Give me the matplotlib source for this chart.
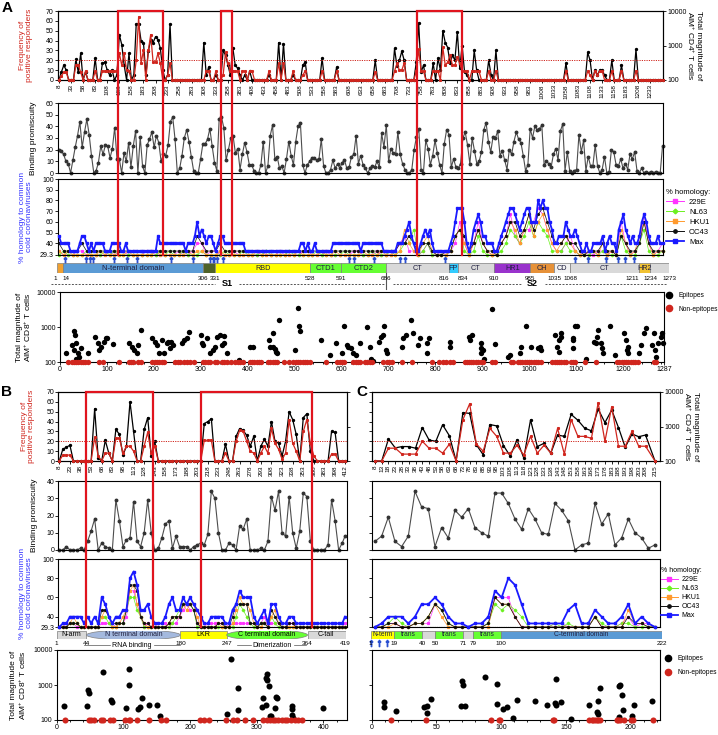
import numpy as np
import matplotlib
matplotlib.use("Agg")
import matplotlib.pyplot as plt
import matplotlib.transforms as mtransforms
from matplotlib.lines import Line2D
from matplotlib.patches import Rectangle, Ellipse
from matplotlib.ticker import NullLocator, MultipleLocator

plt.rcParams['font.family'] = ['Liberation Sans', 'DejaVu Sans']
plt.rcParams['font.size'] = 5
plt.rcParams['axes.linewidth'] = 0.8
plt.rcParams['xtick.major.size'] = 2
plt.rcParams['ytick.major.size'] = 2
plt.rcParams['xtick.minor.size'] = 1.2
plt.rcParams['xtick.major.width'] = 0.6
plt.rcParams['ytick.major.width'] = 0.6
plt.rcParams['xtick.major.pad'] = 1
plt.rcParams['ytick.major.pad'] = 1
plt.rcParams['mathtext.default'] = 'regular'

"""
Panel A - spike (S)
"""
a_pep = list(range(8, 1259, 5))
a_ticks = list(range(8, 1234, 25))

a_freq = [0, 4, 8, 8, 0, 0, 0, 15, 15, 8,
          0, 9, 0, 0, 0, 9, 0, 0, 9, 9,
          9, 9, 9, 9, 9, 27, 15, 27, 10, 9,
          0, 0, 20, 64, 17, 30, 0, 30, 46, 18,
          18, 27, 17, 0, 0, 5, 17, 0, 0, 0,
          0, 0, 0, 0, 0, 0, 0, 0, 0, 0,
          0, 9, 9, 0, 0, 9, 0, 0, 5, 28,
          17, 9, 9, 9, 9, 0, 9, 9, 0, 9,
          9, 0, 0, 0, 0, 0, 0, 9, 0, 0,
          0, 17, 0, 17, 0, 0, 0, 9, 0, 0,
          0, 5, 9, 0, 0, 0, 0, 0, 0, 9,
          0, 0, 0, 0, 0, 9, 0, 0, 0, 0,
          0, 0, 0, 0, 0, 0, 0, 0, 0, 0,
          0, 8, 0, 0, 0, 0, 0, 0, 0, 9,
          17, 10, 10, 17, 0, 0, 0, 0, 9, 31,
          9, 9, 0, 0, 0, 9, 9, 9, 0, 33,
          15, 18, 25, 15, 15, 23, 17, 9, 9, 9,
          0, 9, 9, 9, 9, 0, 0, 0, 9, 0,
          0, 9, 0, 0, 0, 0, 0, 0, 0, 0,
          0, 0, 0, 0, 0, 0, 0, 0, 0, 0,
          0, 0, 0, 0, 0, 0, 0, 0, 0, 0,
          9, 0, 0, 0, 0, 0, 0, 0, 0, 9,
          5, 0, 9, 5, 9, 9, 0, 0, 0, 9,
          0, 0, 0, 9, 0, 0, 0, 0, 0, 9,
          0, 0, 0, 0, 0, 0, 0, 0, 0, 0,
          0]

a_mag = [100, 169, 268, 193, 100, 100, 100, 398, 169, 590,
         100, 169, 100, 100, 100, 425, 100, 100, 306, 327,
         193, 139, 193, 100, 139, 2056, 1068, 268, 100, 590,
         100, 139, 4240, 4240, 1390, 1217, 139, 673, 1484, 1217,
         1806, 1484, 820, 193, 100, 139, 4240, 100, 100, 100,
         100, 100, 100, 100, 100, 100, 100, 100, 100, 100,
         1217, 139, 235, 100, 100, 139, 100, 100, 720, 518,
         268, 139, 875, 268, 220, 139, 100, 139, 100, 180,
         100, 100, 100, 100, 100, 100, 100, 139, 100, 100,
         100, 1217, 100, 1140, 100, 100, 100, 139, 100, 100,
         100, 268, 327, 100, 100, 100, 100, 100, 100, 425,
         100, 100, 100, 100, 100, 235, 100, 100, 100, 100,
         100, 100, 100, 100, 100, 100, 100, 100, 100, 100,
         100, 372, 100, 100, 100, 100, 100, 100, 100, 820,
         251, 372, 673, 372, 100, 100, 100, 100, 327, 4530,
         169, 268, 100, 100, 100, 306, 100, 425, 193, 2680,
         1217, 875, 306, 518, 372, 2510, 220, 1000, 169, 139,
         100, 100, 720, 193, 100, 100, 100, 100, 372, 139,
         100, 720, 100, 100, 100, 100, 100, 100, 100, 100,
         100, 100, 100, 100, 100, 100, 100, 100, 100, 100,
         100, 100, 100, 100, 100, 100, 100, 100, 100, 100,
         306, 100, 100, 100, 100, 100, 100, 100, 100, 631,
         372, 100, 193, 139, 193, 193, 139, 100, 100, 372,
         100, 100, 100, 268, 100, 100, 100, 100, 100, 768,
         100, 100, 100, 100, 100, 100, 100, 100, 100, 100,
         100]

a_binding = [20, 19, 16, 10, 8, 0, 11, 22, 32, 44, 22, 35, 46, 33, 15, 0, 2, 9, 23, 16,
             24, 23, 13, 21, 39, 12, 12, 0, 17, 10, 26, 5, 23, 36, 0, 31, 6, 0, 24, 29,
             35, 22, 32, 26, 10, 16, 15, 24, 44, 48, 29, 0, 4, 15, 30, 37, 27, 14, 2, 0,
             0, 12, 25, 25, 29, 38, 23, 9, 2, 46, 48, 39, 11, 20, 30, 32, 17, 21, 3, 16,
             26, 18, 7, 7, 2, 0, 0, 7, 27, 0, 6, 32, 41, 12, 14, 4, 6, 0, 12, 27,
             15, 7, 27, 40, 43, 7, 0, 7, 10, 13, 13, 11, 12, 29, 6, 0, 0, 3, 11, 4,
             8, 4, 9, 11, 4, 5, 14, 16, 32, 8, 15, 7, 4, 0, 4, 6, 5, 10, 5, 34,
             22, 41, 10, 21, 17, 16, 35, 16, 8, 3, 0, 0, 3, 20, 31, 38, 3, 0, 28, 21,
             7, 15, 28, 17, 7, 0, 25, 37, 33, 5, 12, 5, 4, 8, 30, 35, 24, 8, 30, 19,
             8, 10, 18, 37, 43, 27, 18, 31, 30, 36, 15, 19, 11, 3, 20, 16, 27, 35, 29, 26,
             15, 2, 7, 38, 30, 40, 37, 38, 41, 7, 10, 8, 5, 16, 21, 11, 36, 42, 2, 18,
             2, 0, 2, 3, 33, 18, 28, 2, 14, 6, 6, 24, 6, 0, 3, 14, 0, 1, 20, 18,
             7, 6, 12, 4, 8, 3, 16, 12, 18, 2, 0, 4, 0, 1, 0, 1, 0, 1, 0, 0, 23]

a_hom_max = [47, 40, 40, 40, 40, 33, 33, 33, 33, 40,
             47, 47, 40, 33, 40, 33, 40, 40, 40, 40,
             33, 33, 33, 40, 40, 40, 40, 33, 33, 40,
             33, 33, 33, 33, 33, 33, 33, 33, 33, 33,
             33, 33, 33, 47, 40, 40, 40, 40, 40, 40,
             40, 40, 40, 40, 40, 33, 40, 40, 40, 47,
             60, 47, 53, 47, 40, 47, 47, 40, 33, 40,
             47, 47, 40, 40, 40, 40, 40, 40, 40, 40,
             40, 33, 33, 33, 33, 33, 33, 33, 33, 33,
             33, 33, 33, 33, 33, 33, 33, 33, 33, 33,
             33, 33, 33, 33, 33, 40, 40, 33, 40, 33,
             33, 40, 33, 33, 33, 33, 33, 33, 33, 40,
             40, 40, 40, 40, 40, 40, 40, 40, 40, 40,
             40, 33, 40, 40, 40, 40, 40, 40, 40, 40,
             40, 33, 33, 33, 33, 33, 33, 40, 40, 40,
             47, 53, 60, 47, 40, 33, 33, 40, 47, 53,
             47, 53, 40, 33, 33, 33, 33, 33, 33, 33,
             40, 47, 60, 73, 73, 73, 60, 40, 33, 40,
             53, 60, 67, 60, 47, 47, 40, 40, 40, 33,
             33, 40, 47, 53, 60, 67, 73, 73, 67, 60,
             53, 60, 67, 73, 73, 60, 60, 60, 80, 73,
             80, 73, 73, 60, 53, 40, 40, 47, 47, 47,
             60, 53, 47, 47, 53, 47, 40, 33, 33, 40,
             33, 33, 40, 40, 40, 40, 47, 33, 40, 47,
             40, 40, 33, 53, 60, 67, 53, 47, 40, 47,
             40, 40, 47, 60, 67, 60, 47, 40, 40, 40,
             47, 40, 40]

a_hom_229e = [33, 29.3, 29.3, 29.3, 33, 33, 29.3, 29.3, 29.3, 29.3,
              29.3, 33, 29.3, 33, 33, 29.3, 29.3, 29.3, 29.3, 33,
              33, 29.3, 29.3, 29.3, 29.3, 29.3, 33, 29.3, 29.3, 33,
              40, 40, 29.3, 33, 33, 29.3, 29.3, 29.3, 33, 29.3,
              29.3, 29.3, 29.3, 29.3, 33, 29.3, 29.3, 29.3, 33, 29.3,
              29.3, 29.3, 29.3, 33, 33, 29.3, 29.3, 29.3, 33, 29.3,
              29.3, 29.3, 29.3, 29.3, 33, 33, 29.3, 29.3, 29.3, 33,
              29.3, 29.3, 29.3, 33,
              40, 47, 33, 33, 29.3, 33, 40, 29.3, 29.3, 33,
              29.3, 33, 40, 60, 40, 29.3, 40, 60, 40, 33,
              29.3, 33, 40, 47, 67, 47, 40, 53, 53, 60,
              73, 67, 53, 40, 33, 33, 40, 47, 33, 29.3,
              33, 29.3, 29.3, 33, 33, 29.3, 33, 29.3, 60, 40,
              29.3, 33, 40, 67, 40, 29.3, 33, 40]

a_hom_nl63 = [29.3, 33, 29.3, 29.3, 29.3, 29.3, 33, 29.3, 29.3, 29.3,
              33, 29.3, 33, 29.3, 29.3, 29.3, 29.3, 29.3, 29.3, 29.3,
              29.3, 29.3, 33, 29.3, 33, 29.3, 29.3, 33, 29.3, 29.3,
              29.3, 33, 29.3, 29.3, 29.3, 29.3, 33, 29.3, 29.3, 29.3,
              33, 29.3, 29.3, 29.3, 29.3, 33, 29.3, 29.3, 29.3, 29.3,
              33, 29.3, 29.3, 29.3, 29.3, 29.3, 33, 29.3, 29.3, 29.3,
              29.3, 29.3, 33, 29.3, 29.3, 29.3, 29.3, 29.3, 33, 29.3,
              29.3, 29.3, 33, 29.3,
              33, 40, 40, 53, 29.3, 33, 40, 29.3, 29.3, 29.3,
              29.3, 33, 47, 53, 33, 29.3, 33, 47, 33, 29.3,
              29.3, 29.3, 33, 40, 53, 47, 40, 47, 60, 47,
              60, 53, 47, 33, 33, 33, 40, 33, 33, 29.3,
              29.3, 29.3, 33, 29.3, 33, 29.3, 29.3, 29.3, 47, 33,
              29.3, 29.3, 40, 53, 33, 29.3, 29.3, 33]

a_hom_hku1 = [33, 29.3, 33, 29.3, 29.3, 29.3, 29.3, 29.3, 29.3, 33,
              29.3, 29.3, 29.3, 29.3, 29.3, 33, 29.3, 29.3, 29.3, 29.3,
              29.3, 33, 29.3, 29.3, 29.3, 29.3, 29.3, 29.3, 33, 29.3,
              33, 33, 29.3, 29.3, 29.3, 33, 29.3, 29.3, 29.3, 29.3,
              29.3, 29.3, 29.3, 33, 29.3, 29.3, 29.3, 29.3, 29.3, 29.3,
              29.3, 29.3, 33, 29.3, 29.3, 29.3, 29.3, 33, 29.3, 29.3,
              33, 29.3, 29.3, 29.3, 29.3, 29.3, 33, 29.3, 29.3, 29.3,
              33, 29.3, 29.3, 29.3,
              33, 53, 40, 33, 29.3, 40, 47, 33, 29.3, 29.3,
              29.3, 33, 47, 53, 40, 29.3, 40, 53, 40, 33,
              29.3, 29.3, 40, 47, 60, 53, 40, 53, 67, 47,
              60, 67, 53, 40, 33, 40, 47, 40, 33, 29.3,
              29.3, 33, 33, 29.3, 40, 29.3, 33, 29.3, 53, 40,
              29.3, 33, 47, 60, 40, 29.3, 33, 33]

a_hom_oc43 = [40, 33, 33, 33, 33, 40, 33, 33, 33, 33,
              33, 33, 33, 33, 33, 33, 33, 33, 33, 33,
              33, 33, 33, 33, 33, 33, 33, 33, 33, 33,
              47, 40, 33, 33, 33, 40, 33, 33, 33, 33,
              33, 33, 33, 33, 33, 33, 33, 33, 33, 33,
              33, 33, 33, 33, 33, 33, 33, 33, 33, 33,
              33, 33, 33, 33, 33, 33, 33, 33, 33, 33,
              33, 33, 33, 33,
              40, 40, 47, 40, 33, 40, 40, 33, 29.3, 29.3,
              33, 33, 47, 53, 47, 33, 40, 53, 40, 33,
              33, 29.3, 40, 47, 60, 60, 47, 53, 67, 53,
              67, 73, 60, 47, 40, 40, 47, 40, 40, 33,
              29.3, 33, 33, 33, 40, 33, 33, 29.3, 47, 40,
              33, 33, 40, 60, 40, 33, 33, 33]

# conserved positions marked with arrows under the homology track
a_arrows = [20, 63, 73, 78, 123, 149, 170, 240, 286, 321, 326, 330, 335, 347,
            609, 620, 661, 715, 724, 808, 1077, 1103, 1140, 1165, 1180, 1199]

a_dom_start = [1, 14, 306, 331, 528, 591, 686, 816, 834, 910, 985, 1035, 1068, 1211, 1234]
a_dom_end = [14, 306, 331, 528, 591, 686, 816, 834, 910, 985, 1035, 1068, 1211, 1234, 1273]
a_dom_name = ['', 'N-terminal domain', '', 'RBD', 'CTD1', 'CTD2', 'CT', 'FP', 'CT',
              'HR1', 'CH', 'CD', 'CT', 'HR2', '']
a_dom_ticks = [1, 14, 306, 331, 528, 591, 686, 816, 834, 910, 985, 1035, 1068, 1211, 1234, 1273]

a_epi_pos = [13, 25, 30, 33, 30, 35, 39, 44, 35, 41, 59, 74, 82, 87, 84, 94, 97, 100, 113, 146,
             153, 158, 164, 167, 172, 197, 202, 207, 217, 212, 222, 227, 231, 236, 241, 234, 261, 264, 271, 274,
             300, 303, 305, 313, 320, 325, 330, 335, 340, 345, 350, 355, 350, 382, 404, 412, 446, 448, 453, 458,
             461, 467, 463, 453, 500, 507, 510, 512, 556, 576, 589, 601, 606, 611, 613, 620, 625, 630, 655, 640,
             660, 663, 668, 680, 684, 689, 691, 694, 697, 729, 731, 737, 748, 753, 763, 768, 783, 783, 786, 832,
             832, 872, 874, 878, 896, 896, 901, 904, 896, 921, 926, 955, 958, 980, 983, 993, 1003, 1024, 1019, 1022,
             1054, 1059, 1064, 1064, 1068, 1068, 1093, 1093, 1101, 1098, 1093, 1121, 1137, 1142, 1145, 1147, 1152, 1154, 1157, 1172,
             1182, 1201, 1206, 1211, 1209, 1211, 1234, 1238, 1244, 1249, 1261, 1265, 1268, 1271, 1275, 1280, 1283, 1285]
a_epi_mag = [175, 306, 748, 598, 219, 342, 175, 245, 125, 140, 175, 511, 342, 274, 219, 383, 478, 478, 320, 342,
             274, 219, 175, 306, 836, 478, 383, 306, 428, 175, 175, 342, 383, 383, 306, 245, 342, 428, 498, 733,
             598, 357, 306, 478, 175, 219, 274, 535, 598, 306, 342, 175, 558, 112, 274, 274, 428, 274, 669, 229,
             196, 1570, 175, 274, 219, 3570, 1045, 748, 428, 156, 357, 175, 1093, 306, 274, 245, 175, 156, 978, 342,
             274, 125, 105, 383, 535, 598, 1045, 219, 175, 274, 478, 598, 1630, 669, 306, 478, 175, 342, 478, 383,
             274, 535, 428, 598, 342, 245, 219, 125, 175, 3199, 320, 140, 156, 175, 274, 1093, 274, 219, 256, 274,
             598, 274, 428, 196, 669, 535, 245, 478, 1045, 1045, 428, 125, 383, 357, 535, 836, 342, 245, 175, 1045,
             156, 669, 428, 274, 219, 175, 175, 306, 669, 935, 306, 669, 219, 140, 342, 535, 669, 342]
a_non_pos = [18, 25, 30, 35, 39, 44, 49, 54, 59, 84, 91, 126, 146, 151, 156, 167, 172, 197, 202, 207,
             212, 217, 222, 244, 251, 256, 264, 271, 276, 286, 305, 310, 315, 320, 330, 335, 345, 350, 355, 364,
             372, 379, 384, 389, 404, 409, 414, 419, 423, 428, 443, 448, 453, 458, 463, 478, 487, 497, 502, 507,
             512, 517, 522, 527, 532, 566, 591, 596, 601, 606, 625, 630, 635, 640, 650, 655, 660, 665, 689, 697,
             702, 707, 729, 751, 793, 808, 817, 822, 832, 837, 862, 867, 872, 876, 881, 886, 891, 896, 901, 921,
             926, 960, 965, 975, 980, 985, 990, 995, 1000, 1004, 1009, 1014, 1019, 1024, 1049, 1054, 1059, 1064, 1068, 1073,
             1078, 1088, 1093, 1098, 1118, 1142, 1187, 1192, 1197, 1201, 1206, 1211, 1216, 1221, 1226, 1231, 1265, 1270]

a_boxes = [(130, 223), (344, 366), (750, 843)]

"""
Panel B - nucleocapsid (N)
"""
b_pep = list(range(8, 409, 5)) + [412]
b_ticks = list(range(8, 399, 15)) + [412]

b_freq = [0, 6, 6, 6, 0, 0, 0, 0, 0, 0,
          24, 5, 0, 8, 8, 0, 23, 23, 8, 15,
          15, 10, 0, 0, 15, 29, 8, 15, 0, 0,
          0, 0, 0, 0, 0, 0, 0, 0, 0, 0,
          0, 21, 21, 21, 0, 0, 0, 8, 0, 0,
          20, 31, 30, 20, 10, 8, 0, 8, 15, 8,
          33, 18, 12, 2, 8, 42, 18, 10, 0, 30,
          42, 18, 5, 0, 0, 0, 0, 7, 7, 0,
          0, 0]
b_mag = [100, 220, 251, 286, 100, 100, 100, 100, 100, 100,
         3270, 122, 100, 398, 169, 100, 820, 590, 148, 268,
         5180, 720, 100, 100, 820, 1806, 139, 372, 100, 100,
         100, 100, 100, 100, 100, 100, 100, 100, 100, 100,
         100, 1217, 1390, 1690, 100, 100, 100, 306, 100, 100,
         518, 875, 768, 553, 268, 518, 100, 268, 425, 268,
         1390, 372, 327, 139, 372, 2680, 1585, 590, 100, 1806,
         2340, 193, 100, 100, 100, 100, 100, 720, 673, 100,
         100, 100]
b_binding = [0, 0, 2, 0, 0, 0, 1, 0, 5, 11,
             18, 0, 4, 2, 1, 0, 29, 17, 2, 6,
             7, 28, 5, 2, 10, 29, 10, 0, 1, 7,
             15, 17, 1, 8, 2, 2, 2, 0, 2, 3,
             4, 3, 9, 34, 30, 10, 0, 0, 4, 3,
             0, 14, 12, 18, 0, 0, 0, 1, 0, 5,
             31, 23, 34, 10, 8, 31, 10, 1, 11, 33,
             31, 5, 0, 0, 0, 0, 3, 29, 17, 0,
             4, 8]
b_hom_max = [29.3, 33, 33, 40, 40, 40, 40, 33, 40, 33,
             40, 33, 60, 53, 40, 33, 40, 40, 47, 47,
             80, 87, 73, 47, 47, 53, 40, 33, 33, 33,
             40, 53, 60, 47, 47, 60, 53, 60, 53, 47,
             40, 33, 33, 40, 40, 40, 40, 33, 33, 47,
             53, 67, 60, 60, 60, 40, 33, 40, 47, 33,
             53, 53, 40, 33, 33, 40, 40, 33, 33, 33,
             33, 33, 33, 33, 33, 33, 33, 33, 33, 33,
             33, 40]
b_hom_229e = [29.3, 29.3, 33, 33, 33, 29.3, 29.3, 29.3, 29.3, 29.3,
              29.3, 29.3, 33, 33, 33, 33, 29.3, 33, 33, 40,
              67, 67, 53, 40, 29.3, 33, 29.3, 29.3, 33, 33,
              33, 29.3, 33, 33, 40, 47, 53, 47, 47, 33,
              29.3, 29.3, 33, 33, 33, 33, 33, 33, 29.3, 33,
              33, 33, 33, 33, 33, 33, 29.3, 33, 40, 29.3,
              33, 33, 33, 29.3, 29.3, 33, 33, 29.3, 29.3, 29.3,
              29.3, 29.3, 29.3, 29.3, 29.3, 29.3, 29.3, 29.3, 29.3, 29.3,
              29.3, 33]
b_hom_nl63 = [29.3, 29.3, 29.3, 33, 33, 33, 29.3, 29.3, 29.3, 29.3,
              29.3, 29.3, 40, 40, 33, 29.3, 29.3, 33, 33, 47,
              60, 60, 47, 40, 29.3, 29.3, 29.3, 29.3, 29.3, 29.3,
              29.3, 29.3, 33, 40, 47, 53, 53, 53, 47, 29.3,
              29.3, 29.3, 29.3, 29.3, 29.3, 29.3, 29.3, 29.3, 29.3, 29.3,
              40, 53, 47, 40, 33, 29.3, 29.3, 33, 33, 29.3,
              40, 33, 29.3, 29.3, 29.3, 29.3, 29.3, 29.3, 29.3, 29.3,
              29.3, 29.3, 29.3, 29.3, 29.3, 29.3, 29.3, 29.3, 29.3, 29.3,
              29.3, 29.3]
b_hom_hku1 = [29.3, 29.3, 29.3, 33, 40, 33, 29.3, 29.3, 29.3, 29.3,
              29.3, 29.3, 40, 47, 40, 29.3, 29.3, 33, 40, 47,
              67, 73, 53, 40, 33, 29.3, 29.3, 29.3, 29.3, 29.3,
              29.3, 33, 40, 40, 40, 53, 47, 53, 53, 40,
              29.3, 29.3, 29.3, 29.3, 29.3, 33, 29.3, 29.3, 29.3, 33,
              47, 60, 53, 53, 47, 33, 29.3, 29.3, 33, 29.3,
              40, 47, 33, 29.3, 29.3, 29.3, 29.3, 29.3, 29.3, 29.3,
              29.3, 29.3, 29.3, 29.3, 29.3, 29.3, 29.3, 29.3, 29.3, 29.3,
              29.3, 29.3]
b_hom_oc43 = [29.3, 29.3, 29.3, 33, 33, 33, 29.3, 29.3, 29.3, 29.3,
              29.3, 29.3, 47, 47, 40, 33, 33, 33, 33, 47,
              73, 73, 67, 40, 33, 33, 29.3, 29.3, 29.3, 29.3,
              29.3, 33, 40, 40, 40, 53, 53, 53, 47, 33,
              29.3, 29.3, 29.3, 29.3, 29.3, 33, 33, 29.3, 29.3, 40,
              53, 53, 53, 53, 33, 33, 29.3, 33, 33, 29.3,
              47, 40, 33, 29.3, 29.3, 33, 33, 29.3, 29.3, 29.3,
              29.3, 29.3, 29.3, 29.3, 29.3, 29.3, 29.3, 29.3, 29.3, 29.3,
              29.3, 29.3]

b_epi_pos = [11, 46, 47.5, 49, 70, 81, 83.5, 104, 109, 109, 128, 122.5, 125, 138.5, 151, 155.5, 255, 261, 271.5, 271.5,
             309, 308.5, 313.5, 315.5, 315, 313.5, 318.5, 319.5, 321, 328, 329.5, 331, 353, 352.5, 353.5, 355, 400]
b_epi_mag = [248, 248, 718, 600, 2420, 361, 330, 217, 2960, 1020, 431, 203, 232, 265, 265, 133, 152, 5500, 836, 199,
             431, 232, 1560, 2030, 1360, 265, 935, 133, 128, 222, 460, 431, 248, 207, 136, 114, 222]
b_non_pos = [12, 48, 52, 56, 66, 69, 80, 84, 102, 108, 110, 120, 138, 156, 164, 215, 221, 228, 254, 264,
             270, 282, 295, 310, 315, 320, 324, 328, 332, 338, 342, 346, 352, 358, 362, 368]
b_boxes = [(46, 140), (208, 365)]

"""
Panel C - membrane (M)
"""
c_pep = list(range(8, 209, 5)) + [215]
c_freq = [0, 0, 13, 13, 7, 7, 7, 20, 13, 13,
          8, 17, 0, 42, 58, 17, 10, 33, 25, 8,
          8, 16, 6, 25, 8, 16, 8, 33, 7, 42,
          25, 25, 23, 59, 20, 55, 15, 15, 30, 15,
          15, 0]
c_mag = [100, 100, 435, 240, 262, 262, 235, 935, 407, 372,
         1120, 541, 100, 2520, 2400, 293, 152, 1140, 1040, 280,
         139, 407, 122, 1550, 262, 326, 169, 566, 518, 2240,
         1520, 895, 752, 3200, 1300, 3000, 935, 251, 605, 506,
         566, 100]
c_binding = [5, 8, 19, 5, 2, 8, 34, 25, 24, 2, 13, 7, 23, 19, 24, 13, 10, 8, 33, 33,
             27, 18, 12, 24, 18, 10, 9, 27, 23, 17, 0, 3, 4, 27, 15, 21, 3, 7, 18, 10,
             7, 1, 3]
c_hom_max = [29.3, 33, 40, 40, 40, 33, 40, 53, 53, 60, 53, 40, 33, 33, 29.3, 33, 33, 40, 67, 60,
             80, 73, 53, 33, 33, 33, 33, 33, 33, 47, 53, 33, 33, 47, 40, 33, 33, 40, 53, 33,
             40, 33, 29.3]
c_hom_229e = [29.3, 29.3, 33, 33, 29.3, 29.3, 33, 33, 33, 53, 47, 33, 29.3, 29.3, 29.3, 29.3, 29.3, 33, 60, 60,
              60, 40, 29.3, 29.3, 29.3, 29.3, 29.3, 33, 33, 29.3, 29.3, 29.3, 29.3, 40, 29.3, 29.3, 29.3, 33, 40, 29.3,
              33, 33, 29.3]
c_hom_nl63 = [29.3, 29.3, 33, 40, 33, 29.3, 33, 33, 40, 53, 47, 33, 29.3, 29.3, 29.3, 29.3, 29.3, 33, 53, 47,
              53, 47, 40, 29.3, 29.3, 29.3, 29.3, 33, 29.3, 33, 29.3, 29.3, 29.3, 40, 33, 29.3, 29.3, 33, 33, 29.3,
              29.3, 29.3, 29.3]
c_hom_hku1 = [29.3, 29.3, 29.3, 33, 29.3, 29.3, 33, 33, 40, 53, 40, 29.3, 29.3, 29.3, 29.3, 29.3, 29.3, 29.3, 60, 53,
              53, 40, 29.3, 29.3, 29.3, 29.3, 29.3, 29.3, 29.3, 29.3, 29.3, 29.3, 29.3, 40, 29.3, 29.3, 29.3, 29.3, 47, 33,
              33, 29.3, 29.3]
c_hom_oc43 = [29.3, 29.3, 33, 33, 29.3, 29.3, 33, 33, 40, 53, 47, 33, 29.3, 29.3, 29.3, 29.3, 29.3, 33, 60, 53,
              53, 40, 29.3, 29.3, 29.3, 29.3, 29.3, 29.3, 29.3, 29.3, 29.3, 29.3, 29.3, 40, 29.3, 29.3, 29.3, 29.3, 40, 33,
              33, 29.3, 29.3]
c_arrows = [1, 7, 13]
c_epi_pos = [9.5, 9.5, 18.8, 40.4, 42.9, 42.9, 45.5, 69.4, 70.7, 68.6, 72, 87.4, 96.4, 96.9, 101, 104.6, 108.7, 111.8, 126, 135,
             141.4, 142.2, 141.9, 145.8, 153.7, 167.6, 173.8, 174.8, 175, 176, 191, 192, 193, 194, 191, 200.8, 202.3, 216]
c_epi_mag = [331, 232, 186, 237, 259, 159, 386, 1330, 1000, 259, 248, 1740, 1070, 296, 207, 237, 114, 378, 338, 277,
             309, 1490, 277, 331, 107, 265, 174, 149, 345, 835, 935, 1020, 515, 194, 125, 128, 277, 338]
c_non_pos = [15, 42, 92, 98, 99, 140, 141, 168, 170, 171, 172, 174, 175, 176, 189, 190, 192, 195, 200, 202, 217]

NON_EPITOPE_LEVEL = 100
HOM_NAMES = ['229E', 'NL63', 'HKU1', 'OC43', 'Max']

# colours / styles
RED = '#d0261e'
BOX_RED = '#e0141e'
HOM_BLUE = '#3535ff'
HOM_COLORS = {'229E': '#ff33ff', 'NL63': '#6cf020', 'HKU1': '#ff9a2e', 'OC43': '#111111', 'Max': '#1a1aff'}
HOM_MARKERS = {'229E': 's', 'NL63': 'D', 'HKU1': 's', 'OC43': 'o', 'Max': 's'}

W, H = 718, 735
fig = plt.figure(figsize=(W / 100, H / 100), dpi=100)


def add_ax(x0, y0, x1, y1):
    return fig.add_axes([x0 / W, 1 - y1 / H, (x1 - x0) / W, (y1 - y0) / H])


def freq_panel(box, pos, freq, mag, ticks, xlim, left_text=True, right_text=True):
    ax = add_ax(*box)
    tw = ax.twinx()
    # magnitude (log) on the right, frequency on the left
    ax.set_yscale('log')
    ax.set_ylim(100, 10000)
    ax.plot(pos, mag, color='k', lw=0.9, marker='o', ms=1.4, clip_on=False, zorder=3)
    ax.yaxis.tick_right()
    ax.yaxis.set_label_position('right')
    ax.set_yticks([100, 1000, 10000])
    ax.yaxis.set_minor_locator(NullLocator())
    ax.set_yticklabels(['100', '1000', '10000'] if right_text else [])
    ax.set_xlim(*xlim)
    ax.set_xticks(ticks)
    ax.set_xticklabels([str(t) for t in ticks], rotation=90, fontsize=4.6)
    ax.xaxis.set_minor_locator(NullLocator())
    tw.yaxis.tick_left()
    tw.yaxis.set_label_position('left')
    tw.set_ylim(0, 70)
    tw.set_yticks(range(0, 71, 10))
    if not left_text:
        tw.set_yticklabels([])
    tw.axhline(20, color=RED, lw=0.7, ls=(0, (1.2, 1.2)), zorder=1)
    tw.plot(pos, freq, color=RED, lw=0.9, marker='s', ms=1.2, clip_on=False, zorder=4)
    return ax, tw


def binding_panel(box, pos, vals, xlim, ymax, labels=True):
    ax = add_ax(*box)
    ax.plot(pos, vals, color='#4d4d4d', lw=0.8, marker='o', ms=1.8,
            mfc='#333333', mec='#333333', clip_on=False)
    ax.set_xlim(*xlim)
    ax.set_ylim(0, ymax)
    ax.set_yticks(range(0, ymax + 1, 10))
    ax.set_xticks([])
    if not labels:
        ax.set_yticklabels([])
    return ax


def homology_panel(box, series, xlim, yticks, labels=True):
    ax = add_ax(*box)
    ax.axhline(29.3, color='k', lw=0.8, ls=(0, (1, 1)), zorder=1)
    for name in HOM_NAMES:
        x, y = series[name]
        big = name == 'Max'
        ax.plot(x, y, color=HOM_COLORS[name], lw=1.3 if big else 0.5,
                marker=HOM_MARKERS[name], ms=1.5 if big else 1.3,
                clip_on=False, zorder=3 if big else 2)
    ax.set_xlim(*xlim)
    ax.set_ylim(29.3, 100)
    ax.set_yticks(yticks)
    ax.set_yticklabels([('29.3' if t == 29.3 else str(t)) for t in yticks] if labels else [])
    ax.set_xticks([])
    return ax


def scatter_panel(box, ep_pos, ep_mag, non_pos, xlim, xticks, minor, size, labels=True):
    ax = add_ax(*box)
    ax.set_yscale('log')
    ax.set_ylim(100, 10000)
    ax.scatter(ep_pos, ep_mag, s=size, color='k', lw=0, clip_on=False, zorder=3)
    ax.scatter(non_pos, np.full(len(non_pos), NON_EPITOPE_LEVEL), s=size, color=RED,
               lw=0, clip_on=False, zorder=4)
    ax.set_yticks([100, 1000, 10000])
    ax.yaxis.set_minor_locator(NullLocator())
    ax.set_yticklabels(['100', '1000', '10000'] if labels else [])
    ax.set_xlim(*xlim)
    ax.set_xticks(xticks)
    ax.set_xticklabels([str(t) for t in xticks])
    ax.xaxis.set_minor_locator(MultipleLocator(minor))
    return ax


def red_box(ax, x0, x1, top_px, bottom_px):
    tr = mtransforms.blended_transform_factory(ax.transData, fig.transFigure)
    yt, yb = 1 - top_px / H, 1 - bottom_px / H
    fig.add_artist(Line2D([x0, x0, x1, x1], [yb, yt, yt, yb], transform=tr,
                          color=BOX_RED, lw=1.6, solid_joinstyle='miter', zorder=10))


def hom_legend(x_px, y_px, fs, spacing):
    handles = [Line2D([], [], color=HOM_COLORS[n], marker=HOM_MARKERS[n],
                      ms=2.4, lw=1.3 if n == 'Max' else 0.7) for n in HOM_NAMES]
    leg = fig.legend(handles, HOM_NAMES, title='% homology:', loc='upper left',
                     bbox_to_anchor=(x_px / W, 1 - y_px / H), frameon=False,
                     fontsize=fs, title_fontsize=fs, handlelength=2.4,
                     handletextpad=0.6, labelspacing=spacing, borderpad=0,
                     borderaxespad=0, alignment='left')
    return leg


def epi_legend(x_px, y_px, spacing):
    handles = [Line2D([], [], ls='', marker='o', ms=4.5, color='k'),
               Line2D([], [], ls='', marker='o', ms=4.5, color=RED)]
    fig.legend(handles, ['Epitopes', 'Non-epitopes'], loc='upper left',
               bbox_to_anchor=(x_px / W, 1 - y_px / H), frameon=False, fontsize=4.8,
               handlelength=1.2, handletextpad=0.8, labelspacing=spacing,
               borderpad=0, borderaxespad=0)


# ------------------------------------------------------------------ #
# Panel A
a_xlim = (6, 1259)
axA, twA = freq_panel((58, 11, 663, 80), a_pep, a_freq, a_mag, a_ticks, a_xlim)
twA.set_ylabel('Frequency of\npositive responders', color=RED, fontsize=6, linespacing=1.0)
twA.yaxis.set_label_coords(-0.042, 0.5)
axA.set_ylabel('Total magnitude of\nAIM$^{+}$ CD4$^{+}$ T cells', rotation=270,
               fontsize=6, linespacing=1.0, va='center')
axA.yaxis.set_label_coords(1.05, 0.5)

a_bind_x = np.linspace(8, 1258, len(a_binding))
bA = binding_panel((58, 103, 663, 173), a_bind_x, a_binding, a_xlim, 60)
bA.set_ylabel('Binding promiscuity', fontsize=6)
bA.yaxis.set_label_coords(-0.034, 0.5)

a_series = {}
for name, vals in zip(HOM_NAMES, [a_hom_229e, a_hom_nl63, a_hom_hku1, a_hom_oc43, a_hom_max]):
    a_series[name] = (np.linspace(8, 1258, len(vals)), vals)
hA = homology_panel((58, 179, 663, 255), a_series, a_xlim, [29.3, 40, 50, 60, 70, 80, 90, 100])
hA.set_ylabel('% homology to common\ncold coronaviruses', color=HOM_BLUE, fontsize=6, linespacing=1.0)
hA.yaxis.set_label_coords(-0.042, 0.5)
arr_tr = mtransforms.blended_transform_factory(hA.transData, hA.transAxes)
hA.plot(a_arrows, np.full(len(a_arrows), -0.06), ls='', marker=r'$\uparrow$', ms=4.5,
        color='#2a4fd0', transform=arr_tr, clip_on=False)
hom_legend(666, 189, 5.5, 0.35)

# spike domain map
dA = add_ax(56.5, 263, 669, 273)
dA.set_xlim(1, 1273)
dA.set_ylim(0, 1)
dA.axis('off')
a_dom_colors = ['#f0a030', '#5b9bd5', '#4f6228', '#ffff00', '#66ff33', '#66ff33', '#d9d9d9',
                '#33ccff', '#d9d9d9', '#9933cc', '#e69138', '#f2f2f2', '#d9d9d9', '#f1c232', '#d9d9d9']
for s, e, name, col in zip(a_dom_start, a_dom_end, a_dom_name, a_dom_colors):
    dA.add_patch(Rectangle((s, 0), e - s, 1, fc=col, ec='#7f7f7f', lw=0.5))
    if name:
        dA.text((s + e) / 2, 0.5, name, ha='center', va='center', fontsize=5.5 if len(name) > 3 else 5.2,
                color='#1f1f3f')
# crowded neighbours are nudged apart
tick_align = {1: 'right', 14: 'left', 816: 'right', 834: 'left', 1211: 'right', 1234: 'center'}
for t in a_dom_ticks:
    dA.text(t, -0.25, str(t), ha=tick_align.get(t, 'center'), va='top', fontsize=4.5)
dash = dict(color='#555555', lw=0.7, ls=(0, (2, 1.5)), clip_on=False)
dA.plot([-10, 330], [-1.1, -1.1], **dash)
dA.plot([380, 682], [-1.1, -1.1], **dash)
dA.plot([700, 965], [-1.1, -1.1], **dash)
dA.plot([1015, 1268], [-1.1, -1.1], **dash)
dA.plot([686, 686], [0, -1.6], color='#555555', lw=0.8, clip_on=False)
dA.text(355, -1.1, 'S1', ha='center', va='center', fontsize=6.5, fontweight='bold')
dA.text(990, -1.1, 'S2', ha='center', va='center', fontsize=6.5, fontweight='bold')

sA = scatter_panel((60, 292, 664, 362), a_epi_pos, a_epi_mag, a_non_pos, (0, 1287),
                   list(range(0, 1201, 100)) + [1287], 20, 15)
sA.set_ylabel('Total magnitude of\nAIM$^{+}$ CD8$^{+}$ T cells', fontsize=6, linespacing=1.0)
sA.yaxis.set_label_coords(-0.045, 0.5)
epi_legend(665, 292, 1.0)

for x0, x1 in a_boxes:
    red_box(axA, x0, x1, 11, 255)

# ------------------------------------------------------------------ #
# Panel B
b_xlim = (6.6, 414.4)
axB, twB = freq_panel((58.3, 392, 346.7, 461), b_pep, b_freq, b_mag, b_ticks, b_xlim,
                      right_text=False)
twB.set_ylabel('Frequency of\npositive responders', color=RED, fontsize=6, linespacing=1.0)
twB.yaxis.set_label_coords(-0.082, 0.5)

bB = binding_panel((58.3, 481, 346.7, 550), b_pep, b_binding, b_xlim, 40)
bB.set_ylabel('Binding promiscuity', fontsize=6)
bB.yaxis.set_label_coords(-0.07, 0.5)

b_series = {}
for name, vals in zip(HOM_NAMES, [b_hom_229e, b_hom_nl63, b_hom_hku1, b_hom_oc43, b_hom_max]):
    b_series[name] = (b_pep, vals)
hB = homology_panel((58.3, 559, 346.7, 627), b_series, b_xlim, [29.3, 40, 60, 80, 100])
hB.set_ylabel('% homology to common\ncold coronaviruses', color=HOM_BLUE, fontsize=6, linespacing=1.0)
hB.yaxis.set_label_coords(-0.088, 0.5)

dB = add_ax(56.7, 631, 345.5, 639)
dB.set_xlim(1, 419)
dB.set_ylim(0, 1)
dB.axis('off')
dB.add_patch(Rectangle((1, 0), 43, 1, fc='#d9d9d9', ec='#7f7f7f', lw=0.5))
dB.add_patch(Ellipse((112, 0.5), 136, 1.25, fc='#a4b9de', ec='#7f7f7f', lw=0.5))
dB.add_patch(Rectangle((180, 0), 67, 1, fc='#ffff00', ec='#7f7f7f', lw=0.5))
dB.add_patch(Ellipse((305.5, 0.5), 117, 1.25, fc='#66ff33', ec='#7f7f7f', lw=0.5))
dB.add_patch(Rectangle((364, 0), 55, 1, fc='#d9d9d9', ec='#7f7f7f', lw=0.5))
dB.text(22, 0.5, 'N-arm', ha='center', va='center', fontsize=5)
dB.text(112, 0.5, 'N terminal domain', ha='center', va='center', fontsize=5, color='#1f1f3f')
dB.text(213, 0.5, 'LKR', ha='center', va='center', fontsize=5)
dB.text(305, 0.5, 'C terminal domain', ha='center', va='center', fontsize=5)
dB.text(391, 0.5, 'C-tail', ha='center', va='center', fontsize=5)
for t in [1, 44, 180, 247, 364, 419]:
    dB.text(t, -0.2, str(t), ha='center', va='top', fontsize=4.6)
dB.plot([40, 78], [-0.8, -0.8], color='#555555', lw=0.5, clip_on=False)
dB.plot([142, 180], [-0.8, -0.8], color='#555555', lw=0.5, clip_on=False)
dB.text(110, -0.8, 'RNA binding', ha='center', va='center', fontsize=5)
dB.plot([262, 282], [-0.8, -0.8], color='#555555', lw=0.5, clip_on=False)
dB.plot([344, 362], [-0.8, -0.8], color='#555555', lw=0.5, clip_on=False)
dB.text(313, -0.8, 'Dimerization', ha='center', va='center', fontsize=5)

sB = scatter_panel((56.7, 650, 346.7, 720), b_epi_pos, b_epi_mag, b_non_pos, (0, 435),
                   [0, 100, 200, 300, 400], 20, 19)
sB.set_ylabel('Total magnitude of\nAIM$^{+}$ CD8$^{+}$ T cells', fontsize=6, linespacing=1.0)
sB.yaxis.set_label_coords(-0.1, 0.5)

for x0, x1 in b_boxes:
    red_box(axB, x0, x1, 392, 627)

# ------------------------------------------------------------------ #
# Panel C
c_xlim = (5.6, 218.7)
c_ticks = c_pep
axC, twC = freq_panel((371.7, 392, 660, 461), c_pep, c_freq, c_mag, c_ticks, c_xlim,
                      left_text=False)
axC.set_ylabel('Total magnitude of\nAIM$^{+}$ CD4$^{+}$ T cells', rotation=270,
               fontsize=6, linespacing=1.0, va='center')
axC.yaxis.set_label_coords(1.105, 0.5)

c_bind_x = np.linspace(8, 215, len(c_binding))
binding_panel((371.7, 481, 660, 550), c_bind_x, c_binding, c_xlim, 40, labels=False)

c_series = {}
for name, vals in zip(HOM_NAMES, [c_hom_229e, c_hom_nl63, c_hom_hku1, c_hom_oc43, c_hom_max]):
    c_series[name] = (np.linspace(8, 215, len(vals)), vals)
homology_panel((371.7, 559, 660, 627), c_series, c_xlim, [29.3, 40, 60, 80, 100], labels=False)
hom_legend(661, 567, 5, 0.3)

dC = add_ax(370.7, 631, 661.7, 639)
dC.set_xlim(1, 222)
dC.set_ylim(0, 1)
dC.axis('off')
c_dom = [(1, 19, 'N-term', '#ffff00'), (19, 40, 'trans', '#66ff33'), (40, 50, '', '#d9d9d9'),
         (50, 71, 'trans', '#66ff33'), (71, 79, '', '#d9d9d9'), (79, 100, 'trans', '#66ff33'),
         (100, 222, 'C-terminal domain', '#5b9bd5')]
for s, e, name, col in c_dom:
    dC.add_patch(Rectangle((s, 0), e - s, 1, fc=col, ec='#7f7f7f', lw=0.5))
    if name:
        dC.text((s + e) / 2, 0.5, name, ha='center', va='center', fontsize=4.8, color='#1f1f3f')
for t in [1, 19, 40, 50, 71, 79, 100, 222]:
    dC.text(t, -0.2, str(t), ha='center', va='top', fontsize=4.6)
dC.plot(c_arrows, np.full(len(c_arrows), -0.55), ls='', marker=r'$\uparrow$', ms=4.5,
        color='#2a4fd0', clip_on=False)

scatter_panel((371.7, 650, 660, 720), c_epi_pos, c_epi_mag, c_non_pos, (0, 222.5),
              [0, 50, 100, 150, 200], 10, 19, labels=False)
epi_legend(664, 655, 1.1)

fig.text(7 / W, 1 - 8 / H, 'A', fontsize=11, fontweight='bold', va='center', ha='center')
fig.text(6 / W, 1 - 392 / H, 'B', fontsize=11, fontweight='bold', va='center', ha='center')
fig.text(362 / W, 1 - 392 / H, 'C', fontsize=11, fontweight='bold', va='center', ha='center')

fig.savefig('out.png', dpi=100)
